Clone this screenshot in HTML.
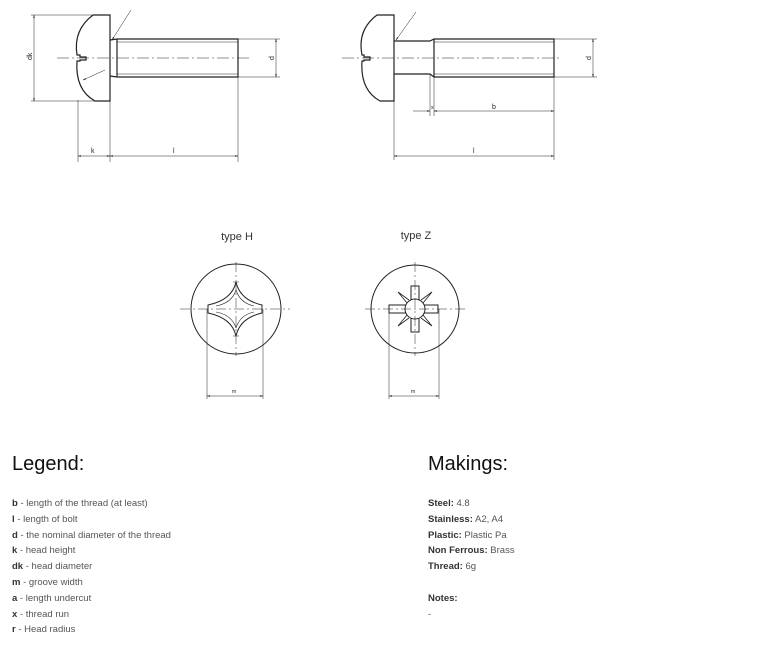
<!DOCTYPE html>
<html><head><meta charset="utf-8"><style>
body{margin:0;width:763px;height:662px;background:#fff;position:relative;overflow:hidden;font-family:"Liberation Sans",sans-serif;}
svg{position:absolute;left:0;top:0}
.h{position:absolute;font-size:20px;color:#111;}
.l{position:absolute;font-size:9.5px;color:#555;line-height:15.8px}
.l b{color:#333}
</style></head><body>
<svg width="763" height="440" viewBox="0 0 763 440" fill="none" stroke="#222" stroke-width="0.8" font-family="Liberation Sans" font-size="7">
<defs><marker id="a" viewBox="0 0 10 10" refX="10" refY="5" markerWidth="6" markerHeight="6" orient="auto-start-reverse"><path d="M0,3L10,5L0,7z" fill="#222"/></marker></defs>
<path d="M110,15 L93,15 Q73,30 77,55 L80,55 L80,57 L86,57 L86,60 L80,60 L80,61 L77,61 Q75,90 95,101 L110,101 Z" stroke-width="1.2"/>
<path d="M110,40 L117,39 L238,39 L238,77 L117,77 L110,76" stroke-width="1.2"/>
<line x1="117" y1="39" x2="117" y2="77" stroke-width="1.2"/>
<line x1="117" y1="42" x2="238" y2="42" stroke-width="0.5"/><line x1="117" y1="74" x2="238" y2="74" stroke-width="0.5"/>
<line x1="57" y1="58" x2="250" y2="58" stroke-dasharray="12,3,2,3" stroke-width="0.6"/>
<line x1="31" y1="15" x2="93" y2="15" stroke-width="0.5"/><line x1="31" y1="101" x2="95" y2="101" stroke-width="0.5"/>
<line x1="34" y1="15" x2="34" y2="101" marker-start="url(#a)" marker-end="url(#a)" stroke-width="0.5"/>
<line x1="238" y1="39" x2="280" y2="39" stroke-width="0.5"/><line x1="238" y1="77" x2="280" y2="77" stroke-width="0.5"/>
<line x1="276" y1="39" x2="276" y2="77" marker-start="url(#a)" marker-end="url(#a)" stroke-width="0.5"/>
<line x1="78" y1="100" x2="78" y2="162" stroke-width="0.5"/><line x1="110" y1="101" x2="110" y2="162" stroke-width="0.5"/><line x1="238" y1="77" x2="238" y2="162" stroke-width="0.5"/>
<line x1="78" y1="156" x2="110" y2="156" marker-start="url(#a)" marker-end="url(#a)" stroke-width="0.5"/>
<line x1="110" y1="156" x2="238" y2="156" marker-start="url(#a)" marker-end="url(#a)" stroke-width="0.5"/>
<line x1="131" y1="10" x2="112" y2="40" marker-end="url(#a)" stroke-width="0.5"/>
<line x1="105" y1="70" x2="83" y2="80" marker-end="url(#a)" stroke-width="0.5"/>
<g fill="#222" stroke="none"><text x="91" y="153">k</text><text x="173" y="153">l</text><text x="32" y="60" transform="rotate(-90 32 60)">dk</text><text x="274" y="60" transform="rotate(-90 274 60)">d</text></g>
<path d="M394,15 L377,15 Q357,30 362,55 L364,55 L364,57 L370,57 L370,60 L364,60 L364,61 L362,61 Q360,90 380,101 L394,101 Z" stroke-width="1.2"/>
<path d="M394,41 L430,41 L434,39 L554,39 L554,77 L434,77 L430,74 L394,74" stroke-width="1.2"/>
<line x1="434" y1="39" x2="434" y2="77" stroke-width="1.2"/>
<line x1="434" y1="42" x2="554" y2="42" stroke-width="0.5"/><line x1="434" y1="74" x2="554" y2="74" stroke-width="0.5"/>
<line x1="342" y1="58" x2="562" y2="58" stroke-dasharray="12,3,2,3" stroke-width="0.6"/>
<line x1="554" y1="39" x2="597" y2="39" stroke-width="0.5"/><line x1="554" y1="77" x2="597" y2="77" stroke-width="0.5"/>
<line x1="593" y1="39" x2="593" y2="77" marker-start="url(#a)" marker-end="url(#a)" stroke-width="0.5"/>
<line x1="430" y1="74" x2="430" y2="116" stroke-width="0.5"/><line x1="434" y1="77" x2="434" y2="116" stroke-width="0.5"/>
<line x1="413" y1="111" x2="430" y2="111" marker-end="url(#a)" stroke-width="0.5"/>
<line x1="434" y1="111" x2="554" y2="111" marker-start="url(#a)" marker-end="url(#a)" stroke-width="0.5"/>
<line x1="394" y1="101" x2="394" y2="160" stroke-width="0.5"/><line x1="554" y1="77" x2="554" y2="160" stroke-width="0.5"/>
<line x1="394" y1="156" x2="554" y2="156" marker-start="url(#a)" marker-end="url(#a)" stroke-width="0.5"/>
<line x1="416" y1="12" x2="396" y2="40" marker-end="url(#a)" stroke-width="0.5"/>
<g fill="#222" stroke="none"><text x="431" y="109" font-size="5">x</text><text x="492" y="109">b</text><text x="473" y="153">l</text><text x="591" y="60" transform="rotate(-90 591 60)">d</text></g>
<text x="237" y="240" fill="#333" stroke="none" font-size="11" text-anchor="middle">type H</text>
<circle cx="236" cy="309" r="45" stroke-width="1"/>
<line x1="180" y1="309" x2="290" y2="309" stroke-dasharray="10,3,2,3" stroke-width="0.5"/>
<line x1="236" y1="262" x2="236" y2="356" stroke-dasharray="10,3,2,3" stroke-width="0.5"/>
<path d="M236,282 Q240,300 262,305 L262,313 Q240,318 236,336 Q232,318 208,313 L208,305 Q232,300 236,282 Z" stroke-width="1"/>
<path d="M233,282 L239,282 M233,336 L239,336 M262,306 L262,312 M208,306 L208,312 M236,290 Q240,303 254,306 M236,328 Q240,315 254,312 M236,290 Q232,303 216,306 M236,328 Q232,315 216,312" stroke-width="0.6"/>
<line x1="207" y1="309" x2="207" y2="399" stroke-width="0.5"/><line x1="263" y1="309" x2="263" y2="399" stroke-width="0.5"/>
<line x1="207" y1="396" x2="263" y2="396" marker-start="url(#a)" marker-end="url(#a)" stroke-width="0.5"/>
<text x="232" y="393" fill="#222" stroke="none" font-size="5">m</text>
<text x="416" y="239" fill="#333" stroke="none" font-size="11" text-anchor="middle">type Z</text>
<circle cx="415" cy="309" r="44" stroke-width="1"/>
<line x1="365" y1="309" x2="465" y2="309" stroke-dasharray="10,3,2,3" stroke-width="0.5"/>
<line x1="415" y1="262" x2="415" y2="356" stroke-dasharray="10,3,2,3" stroke-width="0.5"/>
<circle cx="415" cy="309" r="10" stroke-width="1"/>
<path d="M411,300 L411,286 L419,286 L419,300 M411,318 L411,332 L419,332 L419,318 M406,305 L389,305 L389,313 L406,313 M424,305 L438,305 L438,313 L424,313" stroke-width="1"/>
<path d="M407,303 L398,292 L409,300 M423,303 L432,292 L421,300 M407,315 L398,326 L409,318 M423,315 L432,326 L421,318" stroke-width="0.8"/>
<line x1="389" y1="309" x2="389" y2="399" stroke-width="0.5"/><line x1="439" y1="309" x2="439" y2="399" stroke-width="0.5"/>
<line x1="389" y1="396" x2="439" y2="396" marker-start="url(#a)" marker-end="url(#a)" stroke-width="0.5"/>
<text x="411" y="393" fill="#222" stroke="none" font-size="5">m</text>
</svg>
<div class="h" style="left:12px;top:453px">Legend:</div>
<div class="l" style="left:12px;top:496px"><b>b</b> - length of the thread (at least)<br><b>l</b> - length of bolt<br><b>d</b> - the nominal diameter of the thread<br><b>k</b> - head height<br><b>dk</b> - head diameter<br><b>m</b> - groove width<br><b>a</b> - length undercut<br><b>x</b> - thread run<br><b>r</b> - Head radius</div>
<div class="h" style="left:428px;top:453px">Makings:</div>
<div class="l" style="left:428px;top:496px"><b>Steel:</b> 4.8<br><b>Stainless:</b> A2, A4<br><b>Plastic:</b> Plastic Pa<br><b>Non Ferrous:</b> Brass<br><b>Thread:</b> 6g<br><br><b>Notes:</b><br>-</div>
</body></html>
